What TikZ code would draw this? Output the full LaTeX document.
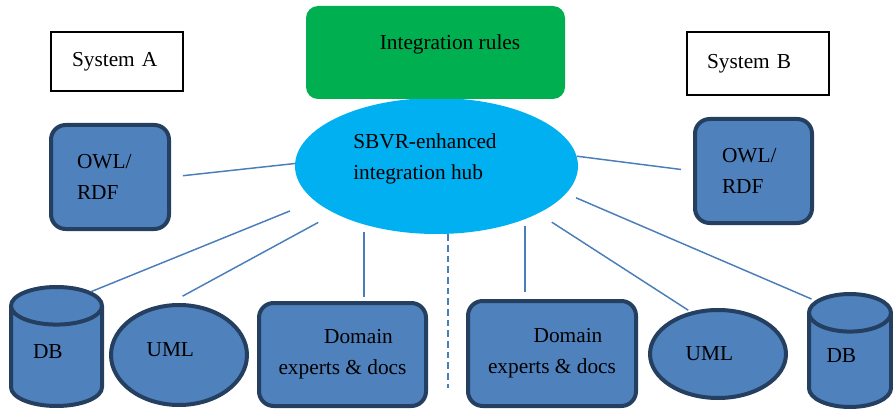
\documentclass[tikz,border=0pt]{standalone}
\usepackage{fontspec}
\setmainfont{Liberation Serif}
\usetikzlibrary{shapes.geometric}

\definecolor{boxfill}{HTML}{4F81BD}
\definecolor{boxline}{HTML}{243F60}
\definecolor{hubfill}{HTML}{00B0F0}
\definecolor{rulefill}{HTML}{00B050}
\definecolor{linkcol}{HTML}{4A7EBB}

\newcommand{\leftnudge}[1]{#1\hspace*{13pt}}
\newcommand{\dbnudge}[1]{\raisebox{8pt}{#1}\hspace*{13pt}}

\tikzset{
  every node/.style={font=\fontsize{16}{23.5}\selectfont},
  sysbox/.style={draw=black,line width=0.8pt,rectangle,align=left,inner ysep=0pt},
  bluebox/.style={draw=boxline,fill=boxfill,line width=3pt,rectangle,rounded corners=11pt},
  blueell/.style={draw=boxline,fill=boxfill,line width=3pt,ellipse,inner sep=0pt},
  bluedb/.style={draw=boxline,fill=boxfill,line width=3pt,cylinder,shape border rotate=90,
    shape aspect=0.8,inner sep=0pt,anchor=shape center},
  link/.style={draw=linkcol,line width=1.1pt},
  dashlink/.style={draw=linkcol,line width=1.1pt,dash pattern=on 5pt off 3pt},
}

\begin{document}
\begin{tikzpicture}[x=0.75pt,y=-0.75pt]
    \useasboundingbox (0,0) rectangle (893,410);
    \clip (0,0) rectangle (893,410);
    %%
    \node (sysA) at (117,61.5) [sysbox,minimum height=44.25pt,inner xsep=15.75pt,text width=67.5pt] {System A};
    \node (sysB) at (758,63.5) [sysbox,minimum height=47.25pt,inner xsep=15pt,text width=76.5pt] {System B};
    \node (hub) at (436.5,166) [ellipse,fill=hubfill,inner sep=0pt,minimum width=212.25pt,minimum height=102pt] {};
    \node (rules) at (435.5,52.5) [rectangle,fill=rulefill,rounded corners=9pt,minimum width=194.25pt,minimum height=69.75pt] {};
    \node (rulestxt) at (450,44) {Integration rules};
    \node (hubtxt) at (353,159) [anchor=west,align=left,inner sep=0pt] {SBVR-enhanced\\integration hub};
    \node (owlA) at (110,177) [bluebox,align=left,minimum height=78pt,inner xsep=19.5pt,text width=49.5pt] {OWL/\\RDF};
    \node (owlB) at (753.5,171) [bluebox,align=left,minimum height=78pt,inner xsep=20.25pt,text width=47.25pt] {OWL/\\RDF};
    \node (dbA) at (56.5,346.5) [bluedb,minimum width=68.25pt,minimum height=89.25pt] {\dbnudge{DB}};
    \node (umlA) at (179,355) [blueell,minimum width=102pt,minimum height=75pt] {\raisebox{8pt}{\leftnudge{UML}}};
    \node (domA) at (342.5,354.5) [bluebox,align=center,minimum width=125.25pt,minimum height=77.25pt] {\hspace*{24pt}Domain\\experts \& docs};
    \node (domB) at (552,353.5) [bluebox,align=center,minimum width=126pt,minimum height=78.75pt] {\hspace*{24pt}Domain\\experts \& docs};
    \node (umlB) at (718,354) [blueell,minimum width=102pt,minimum height=66pt] {\leftnudge{UML}};
    \node (dbB) at (850,350.5) [bluedb,minimum width=61.5pt,minimum height=84.75pt] {\dbnudge{DB}};
    \coordinate (dashend) at (448,388);
    %%
    \draw [link,shorten >=9pt] (hub.179) -- (owlA.east);
    \draw [link,shorten >=9pt] (hub.4) -- (owlB.west);
    \draw [link,shorten <=20pt] (hub.196) -- (dbA.62);
    \draw [link,shorten <=14pt,shorten >=11.6pt] (hub.205) -- (umlA.101);
    \draw [link,shorten <=5.6pt,shorten >=3pt] (hub.219) -- (hub.219 |- domA.north);
    \draw [link,shorten <=5pt,shorten >=5pt] (hub.329) -- (hub.329 |- domB.north);
    \draw [link,shorten <=12pt,shorten >=2pt] (hub.335) -- (umlB.123);
    \draw [link,shorten <=8pt,shorten >=3pt] (hub.348) -- (dbB.120);
    \draw [dashlink] (hub.south -| dashend) -- (dashend);
    %
\end{tikzpicture}
\end{document}
